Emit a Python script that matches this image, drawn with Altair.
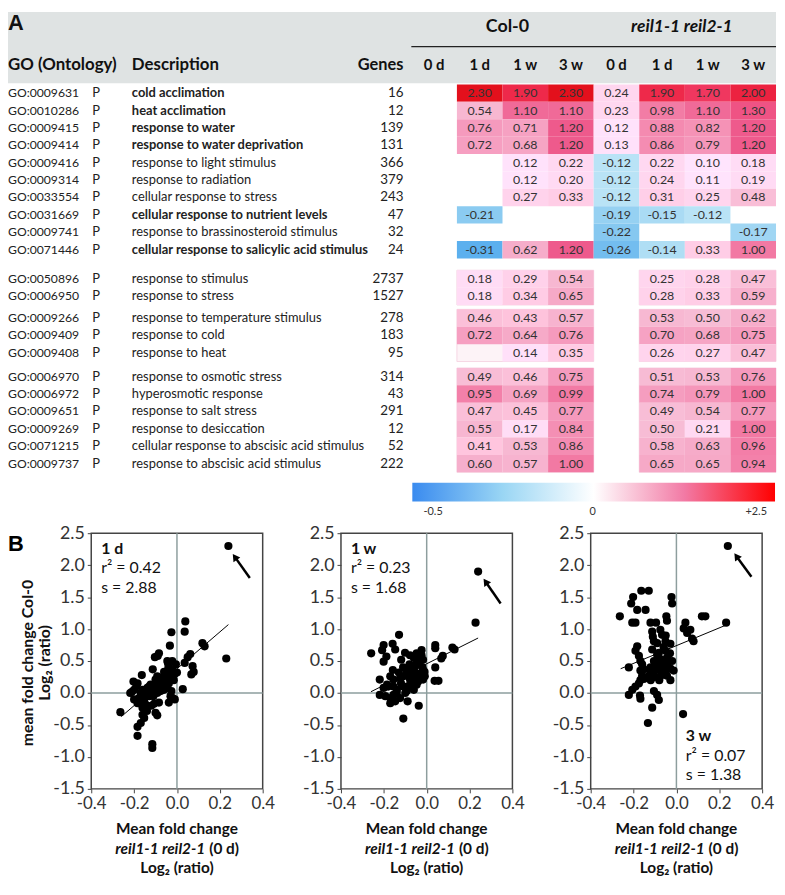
import altair as alt
import pandas as pd

FONT = "Lato"

# ---------------- Panel A data ----------------
go_ids = ["GO:0009631", "GO:0010286", "GO:0009415", "GO:0009414", "GO:0009416",
          "GO:0009314", "GO:0033554", "GO:0031669", "GO:0009741", "GO:0071446",
          "GO:0050896", "GO:0006950",
          "GO:0009266", "GO:0009409", "GO:0009408",
          "GO:0006970", "GO:0006972", "GO:0009651", "GO:0009269", "GO:0071215", "GO:0009737"]
descriptions = ["cold acclimation", "heat acclimation", "response to water",
                "response to water deprivation", "response to light stimulus",
                "response to radiation", "cellular response to stress",
                "cellular response to nutrient levels", "response to brassinosteroid stimulus",
                "cellular response to salicylic acid stimulus",
                "response to stimulus", "response to stress",
                "response to temperature stimulus", "response to cold", "response to heat",
                "response to osmotic stress", "hyperosmotic response", "response to salt stress",
                "response to desiccation", "cellular response to abscisic acid stimulus",
                "response to abscisic acid stimulus"]
gene_counts = [16, 12, 139, 131, 366, 379, 243, 47, 32, 24, 2737, 1527, 278, 183, 95,
               314, 43, 291, 12, 52, 222]
bold_rows = [True, True, True, True, False, False, False, True, False, True] + [False] * 11
row_group = [0] * 10 + [1] * 2 + [2] * 3 + [3] * 6
group_offset = [0.0, 0.68, 0.93, 1.30]
N = None
col0_values = [[N, 2.30, 1.90, 2.30], [N, 0.54, 1.10, 1.10], [N, 0.76, 0.71, 1.20],
               [N, 0.72, 0.68, 1.20], [N, N, 0.12, 0.22], [N, N, 0.12, 0.20],
               [N, N, 0.27, 0.33], [N, -0.21, N, N], [N, N, N, N], [N, -0.31, 0.62, 1.20],
               [N, 0.18, 0.29, 0.54], [N, 0.18, 0.34, 0.65],
               [N, 0.46, 0.43, 0.57], [N, 0.72, 0.64, 0.76], [N, N, 0.14, 0.35],
               [N, 0.49, 0.46, 0.75], [N, 0.95, 0.69, 0.99], [N, 0.47, 0.45, 0.77],
               [N, 0.55, 0.17, 0.84], [N, 0.41, 0.53, 0.86], [N, 0.60, 0.57, 1.00]]
reil_values = [[0.24, 1.90, 1.70, 2.00], [0.23, 0.98, 1.10, 1.30], [0.12, 0.88, 0.82, 1.20],
               [0.13, 0.86, 0.79, 1.20], [-0.12, 0.22, 0.10, 0.18], [-0.12, 0.24, 0.11, 0.19],
               [-0.12, 0.31, 0.25, 0.48], [-0.19, -0.15, -0.12, N], [-0.22, N, N, -0.17],
               [-0.26, -0.14, 0.33, 1.00],
               [N, 0.25, 0.28, 0.47], [N, 0.28, 0.33, 0.59],
               [N, 0.53, 0.50, 0.62], [N, 0.70, 0.68, 0.75], [N, 0.26, 0.27, 0.47],
               [N, 0.51, 0.53, 0.76], [N, 0.74, 0.79, 1.00], [N, 0.49, 0.54, 0.77],
               [N, 0.50, 0.21, 1.00], [N, 0.58, 0.63, 0.96], [N, 0.65, 0.65, 0.94]]
time_labels = ["0 d", "1 d", "1 w", "3 w", "0 d", "1 d", "1 w", "3 w"]
genotypes = ["Col-0", "reil1-1 reil2-1"]
colorbar_labels = ["-0.5", "0", "+2.5"]

# ---------------- Panel B data ----------------
panel_names = ["1 d", "1 w", "3 w"]
r2_text = ["r² = 0.42", "r² = 0.23", "r² = 0.07"]
s_text = ["s = 2.88", "s = 1.68", "s = 1.38"]

b1_x = [0.24, 0.23, 0.039, 0.036, -0.026, -0.033, -0.084, -0.103, -0.09, 0.119, 0.129, 0.062, 0.050,
        0.036, 0.073, 0.078, 0.067, 0.027, -0.022, -0.042, -0.113, -0.164, -0.022, -0.030, -0.046,
        -0.061, -0.092, -0.100, -0.076, -0.053, -0.038, -0.123, -0.107, -0.138, -0.203, -0.184,
        -0.218, -0.200, -0.169, -0.153, -0.177, -0.153, -0.130, -0.115, -0.092, -0.076, -0.061,
        -0.046, -0.030, -0.026, -0.038, -0.084, -0.107, -0.146, -0.184, -0.161, -0.264, -0.161,
        -0.153, -0.100, -0.092, -0.169, -0.184, -0.184, -0.115, -0.115,
        -0.12, -0.10, -0.08, -0.06, -0.05, -0.03, -0.02, -0.01, 0.0, -0.04, -0.07, -0.09, -0.11,
        -0.13, -0.14, -0.16, -0.19, -0.21, -0.17, -0.12, -0.06, -0.04, -0.015, -0.005, -0.20,
        -0.14, -0.02, -0.045, -0.01]
b1_y = [2.30, 0.54, 1.12, 0.96, 0.95, 0.74, 0.62, 0.56, 0.58, 0.78, 0.73, 0.61, 0.56,
        0.47, 0.42, 0.33, 0.29, 0.06, 0.50, 0.47, 0.37, 0.28, 0.36, 0.32, 0.28,
        0.26, 0.26, 0.21, 0.18, 0.21, 0.15, 0.13, 0.10, 0.08, 0.18, 0.15,
        0.00, 0.05, 0.00, 0.03, -0.08, -0.10, -0.05, -0.03, 0.00, 0.03, 0.05,
        0.08, -0.05, 0.03, -0.15, -0.15, -0.17, -0.18, -0.16, -0.23, -0.30, -0.34,
        -0.39, -0.31, -0.35, -0.47, -0.53, -0.67, -0.80, -0.86,
        0.05, 0.12, 0.10, 0.15, 0.30, 0.25, 0.34, 0.30, 0.32, 0.40, 0.20, 0.05, -0.05,
        0.10, -0.02, 0.05, 0.10, 0.02, -0.12, -0.20, 0.33, 0.22, 0.20, 0.45, -0.10,
        -0.28, -0.08, 0.50, -0.10]

b2_x = [0.24, 0.228, 0.12, 0.13, -0.259, -0.129, -0.201, -0.208, -0.159, -0.147, -0.188, -0.201,
        -0.158, -0.101, -0.119, -0.078, -0.047, -0.024, -0.024, 0.040, 0.040, 0.075, 0.068, 0.040,
        0.037, 0.055, -0.017, -0.017, -0.032, -0.055, -0.070, -0.093, -0.109, -0.124, -0.078,
        -0.055, -0.040, -0.017, -0.009, -0.170, -0.155, -0.219, -0.185, -0.155, -0.201, -0.139,
        -0.109, -0.093, -0.086, -0.047, -0.219, -0.193, -0.170, -0.155, -0.170, -0.147, -0.124,
        -0.089, -0.037, -0.109,
        -0.06, -0.05, -0.04, -0.03, -0.08, -0.09, -0.07, -0.12, -0.13, -0.02, -0.01, -0.06,
        -0.10, -0.14, -0.06, -0.035, -0.11, -0.18, -0.08, -0.05]
b2_y = [1.90, 1.10, 0.71, 0.68, 0.62, 0.91, 0.75, 0.67, 0.77, 0.68, 0.57, 0.49,
        0.36, 0.63, 0.52, 0.59, 0.62, 0.67, 0.59, 0.75, 0.70, 0.58, 0.54, 0.40,
        0.19, 0.19, 0.52, 0.36, 0.28, 0.41, 0.31, 0.34, 0.26, 0.23, 0.21,
        0.23, 0.18, 0.21, 0.26, 0.26, 0.21, 0.21, 0.13, 0.10, 0.08, 0.05,
        0.10, 0.03, 0.11, 0.13, -0.03, -0.05, -0.08, -0.03, -0.16, -0.13, -0.08,
        -0.13, -0.20, -0.40,
        0.35, 0.45, 0.30, 0.50, 0.45, 0.28, 0.15, 0.15, 0.32, 0.40, 0.33, 0.05,
        0.00, 0.00, 0.55, 0.55, 0.40, 0.10, 0.35, 0.25]

b3_x = [0.24, 0.232, 0.119, 0.135, -0.264, -0.164, -0.129, -0.202, -0.211, -0.023, -0.020, -0.183,
        -0.144, -0.047, -0.044, -0.206, -0.191, -0.121, -0.095, 0.042, 0.034, 0.065, 0.05, 0.073,
        0.08, -0.113, -0.075, -0.067, -0.105, -0.09, -0.051, -0.028, -0.183, -0.191, -0.175,
        -0.168, -0.222, -0.16, -0.152, -0.168, -0.113, -0.082, -0.051, -0.036, -0.105, -0.075,
        -0.044, -0.02, -0.121, -0.09, -0.059, -0.028, -0.013, -0.129, -0.105, -0.075, -0.044,
        -0.028, -0.16, -0.152, -0.168, -0.175, -0.191, -0.206, -0.222, -0.17, -0.168, -0.105,
        -0.09, -0.082, -0.113, 0.031, -0.133,
        -0.06, -0.04, -0.07, -0.10, -0.05, -0.08, -0.12, -0.12, -0.12, -0.03, -0.06, -0.09,
        -0.11, -0.05]
b3_y = [2.30, 1.10, 1.20, 1.20, 1.20, 1.60, 1.60, 1.50, 1.40, 1.50, 1.40, 1.30,
        1.30, 1.20, 1.13, 1.10, 1.10, 1.10, 1.10, 1.10, 1.01, 0.99, 0.94, 0.85,
        0.81, 0.96, 0.99, 0.91, 0.81, 0.78, 0.81, 0.77, 0.73, 0.66, 0.58,
        0.50, 0.40, 0.45, 0.37, 0.35, 0.68, 0.63, 0.66, 0.61, 0.50, 0.53,
        0.55, 0.50, 0.40, 0.43, 0.40, 0.38, 0.35, 0.27, 0.25, 0.26, 0.27,
        0.20, 0.27, 0.22, 0.20, 0.15, 0.10, 0.05, -0.03, -0.04, -0.09, 0.03,
        -0.03, -0.11, -0.23, -0.33, -0.47,
        0.45, 0.48, 0.35, 0.35, 0.30, 0.20, 0.22, 0.20, 0.33, 0.62, 0.72, 0.60,
        0.88, 0.90]

fit_x = [[-0.26, 0.24], [-0.26, 0.24], [-0.26, 0.23]]
fit_y = [[-0.37, 1.07], [0.02, 0.86], [0.38, 1.06]]
arrow_tail = [(0.34, 1.80), (0.345, 1.40), (0.35, 1.82)]
arrow_head = [(0.27, 2.13), (0.275, 1.74), (0.28, 2.14)]

# ---------------- Panel A ----------------
W_TOP, H_TOP = 775, 512
pos = [i + group_offset[g] for i, g in enumerate(row_group)]
xs = alt.Scale(domain=[0, 8], range=[407, 775], nice=False, zero=False)
ys = alt.Scale(domain=[0, 20], range=[73.2, 424.2], nice=False, zero=False)

color_scale = alt.Scale(domain=[-0.5, -0.3, -0.1, 0, 0.5, 1.2, 2.3],
                        range=["#3a8bef", "#5fb2ee", "#c4e8f7", "#ffffff", "#f7bcd5", "#ee5a8c", "#e3101c"])

rows = pd.DataFrame({"go": go_ids, "desc": descriptions,
                     "genes": [str(g) for g in gene_counts], "bold": bold_rows,
                     "yc": [p + 0.5 for p in pos], "ont": ["P"] * len(go_ids)})

cells = []
for i in range(len(go_ids)):
    for j, v in enumerate(col0_values[i] + reil_values[i]):
        if v is None:
            continue
        cells.append({"c0": j, "c1": j + 1, "r0": pos[i], "r1": pos[i] + 1, "v": v,
                      "xc": j + 0.5, "yc": pos[i] + 0.5, "lab": f"{v:.2f}"})
cells = pd.DataFrame(cells)

blocks = []
for g in [1, 2, 3]:
    ps = [p for p, gg in zip(pos, row_group) if gg == g]
    for c0 in [1, 5]:
        blocks.append({"c0": c0, "c1": c0 + 3, "r0": min(ps), "r1": max(ps) + 1})
blocks = pd.DataFrame(blocks)

one = pd.DataFrame({"a": [0]})
hdr = pd.DataFrame({"xc": [j + 0.5 for j in range(8)], "t": time_labels})


def txt(text, x, y, size=16, bold=True, italic=False, align="center", angle=0, color="#111",
        font=FONT):
    kw = dict(text=text, fontSize=size, font=font, align=align, baseline="middle", color=color)
    if bold:
        kw["fontWeight"] = "bold"
    if italic:
        kw["fontStyle"] = "italic"
    if angle:
        kw["angle"] = angle
    return alt.Chart(one).mark_text(**kw).encode(x=alt.value(x), y=alt.value(y))


band = alt.Chart(one).mark_rect(color="#dfe3e3").encode(
    x=alt.value(0), x2=alt.value(W_TOP), y=alt.value(0), y2=alt.value(72))
hrule = alt.Chart(one).mark_rule(color="#222", strokeWidth=1.5).encode(
    x=alt.value(407), x2=alt.value(W_TOP), y=alt.value(35))
h_cols = alt.Chart(hdr).mark_text(fontSize=15, fontWeight="bold", font=FONT, baseline="middle",
                                  color="#111").encode(
    x=alt.X("xc:Q", scale=xs, axis=None), y=alt.value(54), text="t:N")

blk = alt.Chart(blocks).mark_rect(fill="#fdf3f7", stroke="#f6d7e4", strokeWidth=1).encode(
    x=alt.X("c0:Q", scale=xs, axis=None), x2="c1:Q",
    y=alt.Y("r0:Q", scale=ys, axis=None), y2="r1:Q")
heat = alt.Chart(cells).mark_rect().encode(
    x=alt.X("c0:Q", scale=xs, axis=None), x2="c1:Q",
    y=alt.Y("r0:Q", scale=ys, axis=None), y2="r1:Q",
    fill=alt.Fill("v:Q", scale=color_scale, legend=None))
heat_t = alt.Chart(cells).mark_text(fontSize=12.5, font=FONT, color="#333", baseline="middle").encode(
    x=alt.X("xc:Q", scale=xs, axis=None), y=alt.Y("yc:Q", scale=ys, axis=None), text="lab:N")


def row_text(field, x, align, size, bold=None):
    d = rows if bold is None else rows[rows["bold"] == bold]
    return alt.Chart(d).mark_text(fontSize=size, font=FONT, color="#222", align=align, baseline="middle",
                                  fontWeight="bold" if bold else "normal").encode(
        x=alt.value(x), y=alt.Y("yc:Q", scale=ys, axis=None), text=f"{field}:N")


t_go = row_text("go", 0, "left", 12.3)
t_p = row_text("ont", 89, "center", 13)
t_desc_b = row_text("desc", 125, "left", 13, True)
t_desc_n = row_text("desc", 125, "left", 13, False)
t_genes = row_text("genes", 399, "right", 13.5)

grad = alt.Gradient(gradient="linear", x1=0, x2=1, y1=0, y2=0, stops=[
    alt.GradientStop(offset=0, color="#3a8bef"),
    alt.GradientStop(offset=0.25, color="#9ad6f4"),
    alt.GradientStop(offset=0.5, color="#ffffff"),
    alt.GradientStop(offset=0.75, color="#f27aa5"),
    alt.GradientStop(offset=1, color="#ff0000")])
cbar = alt.Chart(one).mark_rect(fill=grad).encode(
    x=alt.value(408), x2=alt.value(774), y=alt.value(475), y2=alt.value(494))
cb_l = [txt(t, px, 505, size=11, bold=False, color="#333")
        for t, px in zip(colorbar_labels, [429, 590, 755])]

top = alt.layer(band,
                txt("A", 0, 11, size=22, align="left", font="Liberation Sans"),
                txt(genotypes[0], 504, 15, size=18),
                txt(genotypes[1], 680, 15, size=17.5, italic=True),
                hrule,
                txt("GO (Ontology)", 0, 54, size=17, align="left"),
                txt("Description", 125, 54, size=17, align="left"),
                txt("Genes", 399, 54, size=16.5, align="right"),
                h_cols, blk, heat, heat_t, t_go, t_p, t_desc_b, t_desc_n, t_genes, cbar, *cb_l
                ).properties(width=W_TOP, height=H_TOP)

# ---------------- Panel B ----------------
PW, PH = 173, 258
bx = [b1_x, b2_x, b3_x]
by = [b1_y, b2_y, b3_y]
ann_pos = [(10, 16), (10, 16), (96, 205)]
HYPHEN = "replace(datum.label, '\u2212', '-')"


def scatter(k):
    xsc = alt.Scale(domain=[-0.4, 0.4], nice=False, zero=False)
    ysc = alt.Scale(domain=[-1.5, 2.5], nice=False, zero=False)
    xax = alt.Axis(values=[-0.4, -0.2, 0.0, 0.2, 0.4], format=".1f", grid=False, domain=False,
                   labelFontSize=17, labelFont=FONT, labelColor="#333", tickSize=4, labelOverlap=False,
                   tickColor="#444", labelPadding=3, title=None, labelExpr=HYPHEN, labelFlush=False)
    yax = alt.Axis(values=[-1.5, -1.0, -0.5, 0.0, 0.5, 1.0, 1.5, 2.0, 2.5], format=".1f", grid=False,
                   domain=False, labelFontSize=18, labelFont=FONT, labelColor="#333", tickSize=4,
                   labelOverlap=False, tickColor="#444", labelPadding=3, title=None, labelExpr=HYPHEN,
                   labelFlush=False)
    X = lambda f: alt.X(f, scale=xsc, axis=xax)
    Y = lambda f: alt.Y(f, scale=ysc, axis=yax)
    pts = pd.DataFrame({"x": bx[k], "y": by[k]})
    zero = pd.DataFrame({"z": [0.0]})
    base_pts = alt.Chart(pts).mark_circle(size=68, color="black", opacity=1).encode(
        x=X("x:Q"), y=Y("y:Q"))
    vz = alt.Chart(zero).mark_rule(color="#8d9e9e", strokeWidth=1.5).encode(x=X("z:Q"))
    hz = alt.Chart(zero).mark_rule(color="#8d9e9e", strokeWidth=1.5).encode(y=Y("z:Q"))
    fit = alt.Chart(pd.DataFrame({"x": fit_x[k], "y": fit_y[k]})).mark_line(
        color="black", strokeWidth=1).encode(x=X("x:Q"), y=Y("y:Q"))
    arr = pd.DataFrame({"x": [arrow_tail[k][0]], "y": [arrow_tail[k][1]],
                        "x2": [arrow_head[k][0]], "y2": [arrow_head[k][1]]})
    arr_line = alt.Chart(arr).mark_rule(color="black", strokeWidth=2.5).encode(
        x=X("x:Q"), y=Y("y:Q"), x2="x2:Q", y2="y2:Q")
    arr_head = alt.Chart(arr).mark_point(shape="triangle-up", filled=True, size=70, angle=325,
                                         color="black", opacity=1).encode(x=X("x2:Q"), y=Y("y2:Q"))
    ax, ay = ann_pos[k]
    layers = [vz, hz, fit, base_pts, arr_line, arr_head,
              txt(panel_names[k], ax, ay, size=16, align="left"),
              txt(r2_text[k], ax, ay + 19.5, size=16, bold=False, align="left"),
              txt(s_text[k], ax, ay + 39, size=16, bold=False, align="left"),
              txt("Mean fold change", PW / 2, PH + 41, size=15.5),
              txt("reil1-1 reil2-1", 115, PH + 61, size=15.5, italic=True, align="right"),
              txt("(0 d)", 119, PH + 61, size=15.5, align="left"),
              txt("Log₂ (ratio)", PW / 2, PH + 80, size=15.5)]
    if k == 0:
        layers += [txt("mean fold change Col-0", -64, PH / 2 + 2, angle=270),
                   txt("Log₂ (ratio)", -47, PH / 2 + 2, angle=270)]
    return alt.layer(*layers).properties(
        width=PW, height=PH, view=alt.ViewBackground(stroke="#444", strokeWidth=1.5))


spacer = alt.Chart(one).mark_text(text="B", fontSize=22, fontWeight="bold", font="Liberation Sans",
                                  align="left", baseline="middle").encode(
    x=alt.value(0), y=alt.value(11)).properties(width=5, height=PH)

bottom = alt.hconcat(spacer, scatter(0), scatter(1), scatter(2), spacing=79, bounds="flush")

chart = alt.vconcat(top, bottom, spacing=4, bounds="full").properties(
    padding={"left": 0, "top": 0, "right": 0, "bottom": 0}
).configure(font=FONT, view=alt.ViewConfig(strokeWidth=0))

chart.save("out.html", embed_options={"renderer": "svg", "actions": False})
